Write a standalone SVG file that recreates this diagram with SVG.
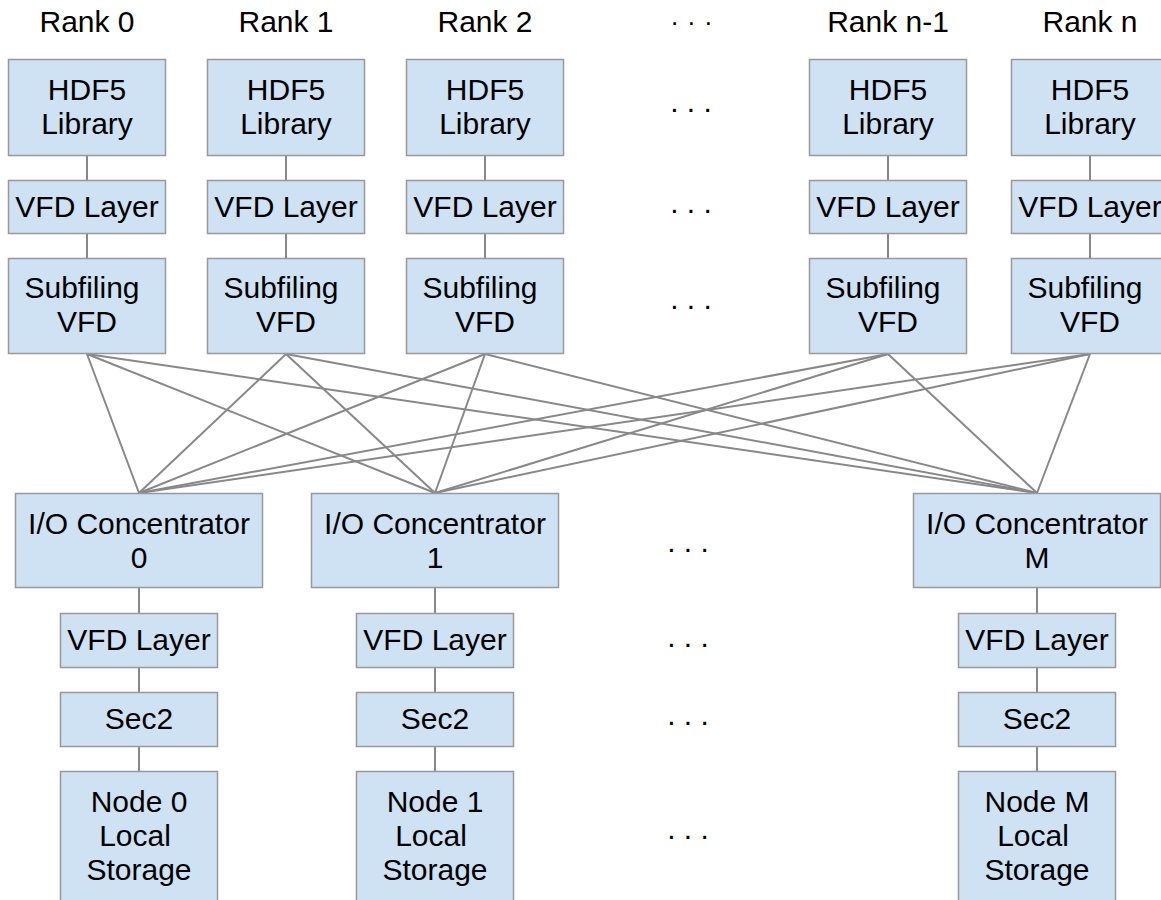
<svg xmlns="http://www.w3.org/2000/svg" width="1161" height="900" viewBox="0 0 1161 900">
<style>
.box{fill:#cfe2f3;stroke:#999999;stroke-width:1.5}
.t{font-family:"Liberation Sans",Arial,sans-serif;font-size:30px;fill:#000;text-anchor:middle}
.d{font-size:26px;letter-spacing:1.2px}
.c line{stroke:#888888;stroke-width:2}
</style>
<rect width="1161" height="900" fill="#ffffff"/>
<g id="labels">
<text class="t" x="87" y="32">Rank 0</text>
<text class="t" x="286" y="32">Rank 1</text>
<text class="t" x="485" y="32">Rank 2</text>
<text class="t" x="888" y="32">Rank n-1</text>
<text class="t" x="1090" y="32">Rank n</text>
</g>
<g id="dots">
<text class="t d" x="692" y="25">. . .</text>
<text class="t" x="691" y="112">. . .</text>
<text class="t" x="691" y="213">. . .</text>
<text class="t" x="691" y="309">. . .</text>
<text class="t" x="688" y="552">. . .</text>
<text class="t" x="688" y="647">. . .</text>
<text class="t" x="688" y="725">. . .</text>
<text class="t" x="688" y="839">. . .</text>
</g>
<g id="connectors" class="c">
<line x1="87" y1="156" x2="87" y2="180"/><line x1="87" y1="234" x2="87" y2="258"/>
<line x1="286" y1="156" x2="286" y2="180"/><line x1="286" y1="234" x2="286" y2="258"/>
<line x1="485" y1="156" x2="485" y2="180"/><line x1="485" y1="234" x2="485" y2="258"/>
<line x1="888" y1="156" x2="888" y2="180"/><line x1="888" y1="234" x2="888" y2="258"/>
<line x1="1090" y1="156" x2="1090" y2="180"/><line x1="1090" y1="234" x2="1090" y2="258"/>
<line x1="87" y1="354" x2="139" y2="493"/><line x1="87" y1="354" x2="435" y2="493"/><line x1="87" y1="354" x2="1037" y2="493"/>
<line x1="286" y1="354" x2="139" y2="493"/><line x1="286" y1="354" x2="435" y2="493"/><line x1="286" y1="354" x2="1037" y2="493"/>
<line x1="485" y1="354" x2="139" y2="493"/><line x1="485" y1="354" x2="435" y2="493"/><line x1="485" y1="354" x2="1037" y2="493"/>
<line x1="888" y1="354" x2="139" y2="493"/><line x1="888" y1="354" x2="435" y2="493"/><line x1="888" y1="354" x2="1037" y2="493"/>
<line x1="1090" y1="354" x2="139" y2="493"/><line x1="1090" y1="354" x2="435" y2="493"/><line x1="1090" y1="354" x2="1037" y2="493"/>
<line x1="139" y1="588" x2="139" y2="613"/><line x1="139" y1="668" x2="139" y2="692"/><line x1="139" y1="747" x2="139" y2="771"/>
<line x1="435" y1="588" x2="435" y2="613"/><line x1="435" y1="668" x2="435" y2="692"/><line x1="435" y1="747" x2="435" y2="771"/>
<line x1="1037" y1="588" x2="1037" y2="613"/><line x1="1037" y1="668" x2="1037" y2="692"/><line x1="1037" y1="747" x2="1037" y2="771"/>
</g>
<g id="rank0">
<g id="hdf5-0"><rect class="box" x="8.5" y="59.5" width="157" height="96"/><text class="t" x="87" y="100">HDF5</text><text class="t" x="87" y="134">Library</text></g>
<g id="vfd-0"><rect class="box" x="8.5" y="180.5" width="157" height="53"/><text class="t" x="87" y="217">VFD Layer</text></g>
<g id="sub-0"><rect class="box" x="8.5" y="258.5" width="157" height="95"/><text class="t" x="82" y="298">Subfiling</text><text class="t" x="87" y="332">VFD</text></g>
</g>
<g id="rank1">
<g id="hdf5-1"><rect class="box" x="207.5" y="59.5" width="157" height="96"/><text class="t" x="286" y="100">HDF5</text><text class="t" x="286" y="134">Library</text></g>
<g id="vfd-1"><rect class="box" x="207.5" y="180.5" width="157" height="53"/><text class="t" x="286" y="217">VFD Layer</text></g>
<g id="sub-1"><rect class="box" x="207.5" y="258.5" width="157" height="95"/><text class="t" x="281" y="298">Subfiling</text><text class="t" x="286" y="332">VFD</text></g>
</g>
<g id="rank2">
<g id="hdf5-2"><rect class="box" x="406.5" y="59.5" width="157" height="96"/><text class="t" x="485" y="100">HDF5</text><text class="t" x="485" y="134">Library</text></g>
<g id="vfd-2"><rect class="box" x="406.5" y="180.5" width="157" height="53"/><text class="t" x="485" y="217">VFD Layer</text></g>
<g id="sub-2"><rect class="box" x="406.5" y="258.5" width="157" height="95"/><text class="t" x="480" y="298">Subfiling</text><text class="t" x="485" y="332">VFD</text></g>
</g>
<g id="rankn1">
<g id="hdf5-n1"><rect class="box" x="809.5" y="59.5" width="157" height="96"/><text class="t" x="888" y="100">HDF5</text><text class="t" x="888" y="134">Library</text></g>
<g id="vfd-n1"><rect class="box" x="809.5" y="180.5" width="157" height="53"/><text class="t" x="888" y="217">VFD Layer</text></g>
<g id="sub-n1"><rect class="box" x="809.5" y="258.5" width="157" height="95"/><text class="t" x="883" y="298">Subfiling</text><text class="t" x="888" y="332">VFD</text></g>
</g>
<g id="rankn">
<g id="hdf5-n"><rect class="box" x="1011.5" y="59.5" width="157" height="96"/><text class="t" x="1090" y="100">HDF5</text><text class="t" x="1090" y="134">Library</text></g>
<g id="vfd-n"><rect class="box" x="1011.5" y="180.5" width="157" height="53"/><text class="t" x="1090" y="217">VFD Layer</text></g>
<g id="sub-n"><rect class="box" x="1011.5" y="258.5" width="157" height="95"/><text class="t" x="1085" y="298">Subfiling</text><text class="t" x="1090" y="332">VFD</text></g>
</g>
<g id="ioc0">
<g id="ioc-0"><rect class="box" x="15.5" y="493.5" width="247" height="94"/><text class="t" x="139" y="534">I/O Concentrator</text><text class="t" x="139" y="568">0</text></g>
<g id="bvfd-0"><rect class="box" x="60.5" y="613.5" width="157" height="54"/><text class="t" x="139" y="650">VFD Layer</text></g>
<g id="sec2-0"><rect class="box" x="60.5" y="692.5" width="157" height="54"/><text class="t" x="139" y="729">Sec2</text></g>
<g id="node-0"><rect class="box" x="60.5" y="771.5" width="157" height="140"/><text class="t" x="139" y="812">Node 0</text><text class="t" x="135" y="846">Local</text><text class="t" x="139" y="880">Storage</text></g>
</g>
<g id="ioc1">
<g id="ioc-1"><rect class="box" x="311.5" y="493.5" width="247" height="94"/><text class="t" x="435" y="534">I/O Concentrator</text><text class="t" x="435" y="568">1</text></g>
<g id="bvfd-1"><rect class="box" x="356.5" y="613.5" width="157" height="54"/><text class="t" x="435" y="650">VFD Layer</text></g>
<g id="sec2-1"><rect class="box" x="356.5" y="692.5" width="157" height="54"/><text class="t" x="435" y="729">Sec2</text></g>
<g id="node-1"><rect class="box" x="356.5" y="771.5" width="157" height="140"/><text class="t" x="435" y="812">Node 1</text><text class="t" x="431" y="846">Local</text><text class="t" x="435" y="880">Storage</text></g>
</g>
<g id="iocM">
<g id="ioc-M"><rect class="box" x="913.5" y="493.5" width="247" height="94"/><text class="t" x="1037" y="534">I/O Concentrator</text><text class="t" x="1037" y="568">M</text></g>
<g id="bvfd-M"><rect class="box" x="958.5" y="613.5" width="157" height="54"/><text class="t" x="1037" y="650">VFD Layer</text></g>
<g id="sec2-M"><rect class="box" x="958.5" y="692.5" width="157" height="54"/><text class="t" x="1037" y="729">Sec2</text></g>
<g id="node-M"><rect class="box" x="958.5" y="771.5" width="157" height="140"/><text class="t" x="1037" y="812">Node M</text><text class="t" x="1033" y="846">Local</text><text class="t" x="1037" y="880">Storage</text></g>
</g>
</svg>
